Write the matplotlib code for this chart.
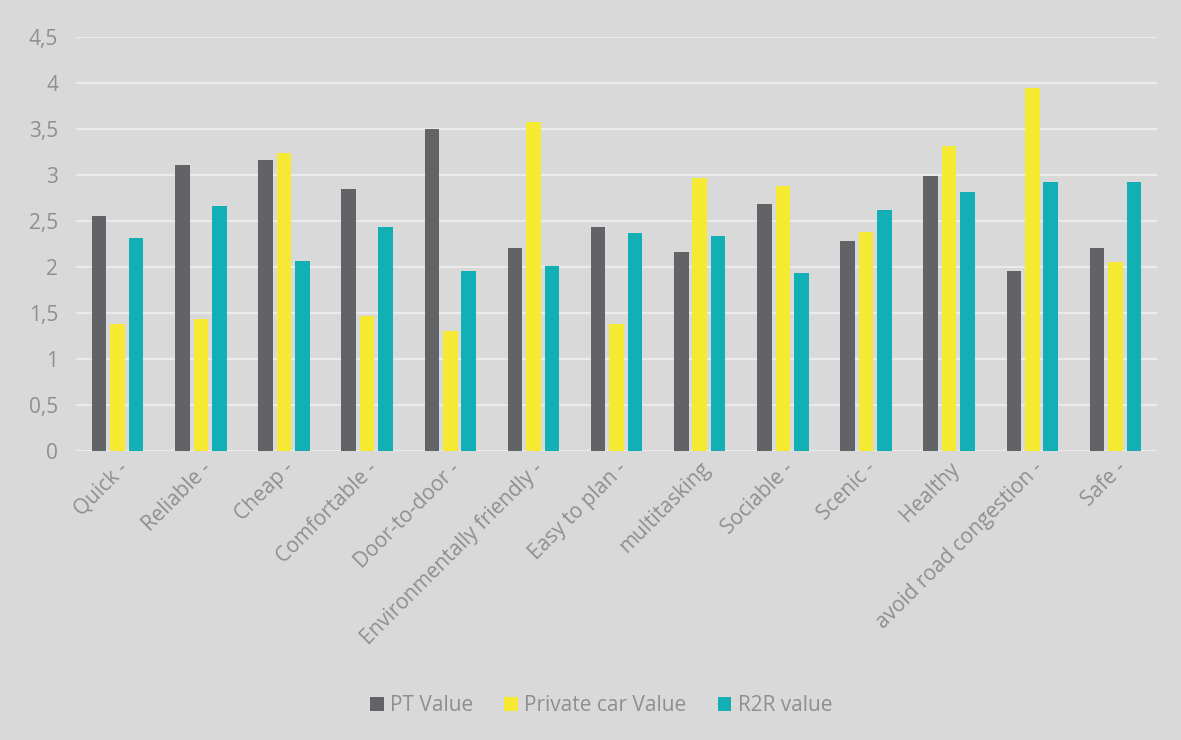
import numpy as np
import matplotlib.pyplot as plt
from matplotlib.ticker import FuncFormatter

categories = ['Quick -', 'Reliable -', 'Cheap -', 'Comfortable -', 'Door-to-door -',
              'Environmentally friendly -', 'Easy to plan -', 'multitasking', 'Sociable -',
              'Scenic -', 'Healthy', 'avoid road congestion -', 'Safe -']
pt_value = [2.55, 3.11, 3.16, 2.85, 3.50, 2.21, 2.44, 2.16, 2.69, 2.28, 2.99, 1.96, 2.21]
car_value = [1.38, 1.44, 3.24, 1.47, 1.31, 3.58, 1.38, 2.97, 2.88, 2.38, 3.32, 3.95, 2.05]
r2r_value = [2.31, 2.66, 2.06, 2.43, 1.96, 2.01, 2.37, 2.34, 1.93, 2.62, 2.82, 2.92, 2.92]

series = [('PT Value', pt_value, '#626367'),
          ('Private car Value', car_value, '#F5EA31'),
          ('R2R value', r2r_value, '#12AFB5')]

plt.rcParams['font.family'] = ['Open Sans', 'DejaVu Sans']
bg = '#D9D9D9'
txt = '#8F8F8F'

fig = plt.figure(figsize=(11.81, 7.40), dpi=100, facecolor=bg)
ax = fig.add_axes([0.0644, 0.3905, 0.9153, 0.5595])
ax.set_facecolor(bg)

x = np.arange(len(categories))
w = 0.175
step = 0.222
for i, (name, vals, col) in enumerate(series):
    ax.bar(x + (i - 1) * step, vals, width=w, color=col, label=name, zorder=3)

ax.set_ylim(0, 4.5)
ax.set_xlim(-0.5, len(categories) - 0.5)
ax.set_yticks(np.arange(0, 4.51, 0.5))
ax.yaxis.set_major_formatter(FuncFormatter(lambda v, p: f'{v:g}'.replace('.', ',')))
ax.grid(axis='y', color='#EBEBEB', linewidth=1.5, zorder=0)
for s in ax.spines.values():
    s.set_visible(False)
ax.tick_params(length=0, colors=txt, labelsize=15)
ax.tick_params(axis='y', pad=13)
ax.tick_params(axis='x', pad=5)
ax.set_xticks(x)
ax.set_xticklabels(categories, rotation=45, ha='right', va='top', rotation_mode='anchor')

fig.legend(loc='center', bbox_to_anchor=(0.509, 0.046), ncol=3, frameon=False,
           fontsize=15, labelcolor=txt, handlelength=0.65, handleheight=0.65,
           handletextpad=0.3, columnspacing=1.5)

fig.savefig('out.png', dpi=100, facecolor=bg)
